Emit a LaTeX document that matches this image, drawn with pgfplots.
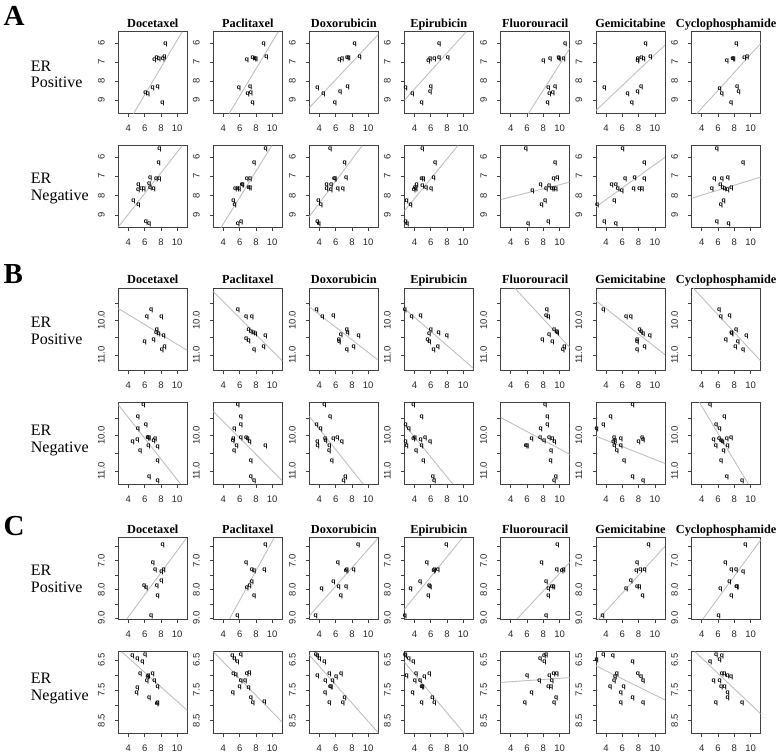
\documentclass[border=0pt]{standalone}
\usepackage{fontspec}
\setmainfont{Liberation Serif}
\newfontfamily\sansf{Liberation Sans}
\usepackage{pgfplots}
\pgfplotsset{compat=1.18}
\pgfplotsset{
 panel/.style={scale only axis, width=69pt, height=82pt, xmin=2.76, xmax=11.24, y dir=reverse,
   xtick={4,6,8,10}, xticklabels={4,6,8,10}, tick align=outside, tick pos=left,
   major tick length=3.5pt,
   axis line style={draw=black!75, line width=0.8pt},
   every tick/.style={draw=black!75, line width=0.6pt},
   tick label style={font=\sansf\fontsize{9.5}{9.5}\selectfont, text=black!85},
   xticklabel style={inner sep=0pt, anchor=north, yshift=-7.7pt},
   yticklabel style={inner sep=0pt, xshift=-10pt, rotate=90, anchor=south},
   clip=true, scaled ticks=false},
 rowAp/.style={ymin=5.42,ymax=9.70,ytick={6,7,8,9},yticklabels={6,7,8,9}},
 rowAn/.style={ymin=5.42,ymax=9.65,ytick={6,7,8,9},yticklabels={6,7,8,9}},
 rowBp/.style={ymin=9.08,ymax=11.44,ytick={9.5,10,10.5,11},yticklabels={,10.0,,11.0}},
 rowBn/.style={ymin=9.06,ymax=11.38,ytick={9.5,10,10.5,11},yticklabels={,10.0,,11.0}},
 rowCp/.style={ymin=6.2,ymax=9.05,ytick={6.5,7,7.5,8,8.5,9},yticklabels={,7.0,,8.0,,9.0}},
 rowCn/.style={ymin=6.22,ymax=8.94,ytick={6.5,7,7.5,8,8.5},yticklabels={6.5,,7.5,,8.5}},
 regline/.style={draw=gray!50, line width=0.9pt, no marks},
 pts/.style={only marks, mark=text, text mark={\sansf\bfseries\fontsize{6.8}{6.8}\selectfont q}, black},
}
\newcommand{\panel}[5]{%
  \begin{axis}[panel,#3,at={(#1pt,-#2pt)},anchor=north west]
    \addplot[regline] coordinates {#5};
    \addplot[pts] coordinates {#4};
  \end{axis}}
\newcommand{\ttl}[3]{\node[font=\bfseries\fontsize{12.3}{12.3}\selectfont, anchor=base, inner sep=0pt] at (#1pt,-#2pt) {#3};}
\newcommand{\titles}[1]{%
  \ttl{152.8}{#1}{Docetaxel}\ttl{247.8}{#1}{Paclitaxel}\ttl{343.8}{#1}{Doxorubicin}%
  \ttl{438.8}{#1}{Epirubicin}\ttl{535.2}{#1}{Fluorouracil}\ttl{630.5}{#1}{Gemicitabine}%
  \ttl{726.2}{#1}{Cyclophosphamide}}
\newcommand{\rlab}[3]{%
  \node[font=\fontsize{16}{16}\selectfont, anchor=base west, inner sep=0pt] at (30.7pt,-#1pt) {ER};
  \node[font=\fontsize{16}{16}\selectfont, anchor=base west, inner sep=0pt] at (30.7pt,-#2pt) {#3};}
\newcommand{\sect}[2]{\node[font=\bfseries\fontsize{29}{29}\selectfont, anchor=base west, inner sep=0pt] at (3.5pt,-#1pt) {#2};}
\begin{document}
\begin{tikzpicture}
\path[use as bounding box] (0,0) rectangle (780pt,-752pt);
\sect{26}{A}\sect{283}{B}\sect{535}{C}
\titles{27.2}\titles{283.8}\titles{533.2}
\rlab{71.5}{88}{Positive}\rlab{183.3}{200}{Negative}
\rlab{327}{344}{Positive}\rlab{435}{452}{Negative}
\rlab{575}{592}{Positive}\rlab{683}{700}{Negative}
% ---------------- A positive
\panel{118.3}{31.7}{rowAp}{(8.55,6.09)(7.19,6.92)(7.48,6.82)(7.76,6.89)(8.26,6.84)(8.43,6.77)(6.98,8.39)(7.6,8.34)(6.11,8.62)(6.4,8.71)(8.18,9.18)}{(4.62,9.70)(10.62,5.42)}
\panel{213.3}{31.7}{rowAp}{(8.96,6.09)(9.3,6.77)(6.9,6.92)(7.6,6.82)(7.85,6.84)(8.0,6.89)(5.9,8.39)(7.3,8.34)(7.4,8.62)(7.0,8.71)(7.6,9.18)}{(4.7,9.7)(10.75,5.42)}
\panel{309.3}{31.7}{rowAp}{(8.34,6.09)(6.48,6.92)(6.81,6.87)(7.43,6.82)(7.6,6.82)(8.96,6.77)(3.75,8.39)(4.5,8.71)(6.57,8.6)(7.48,8.34)(5.9,9.18)}{(2.76,9.39)(11.24,5.56)}
\panel{404.3}{31.7}{rowAp}{(7.06,6.09)(5.74,6.96)(5.94,6.87)(6.48,6.84)(7.06,6.82)(8.14,6.79)(2.92,8.39)(3.75,8.71)(6.03,8.34)(5.94,8.6)(4.91,9.18)}{(2.76,9.0)(10.37,5.42)}
\panel{500.7}{31.7}{rowAp}{(10.7,6.09)(8.01,6.96)(8.84,6.87)(9.88,6.79)(9.96,6.84)(10.5,6.87)(8.63,8.39)(9.46,8.34)(8.76,8.71)(9.17,8.62)(8.55,9.18)}{(6.15,9.7)(11.24,6.3)}
\panel{596}{31.7}{rowAp}{(8.88,6.09)(7.89,6.96)(7.93,6.84)(8.34,6.82)(8.63,6.87)(9.46,6.77)(3.79,8.39)(6.65,8.71)(7.89,8.6)(8.3,8.34)(7.19,9.18)}{(2.76,9.53)(11.24,6.12)}
\panel{691.7}{31.7}{rowAp}{(8.26,6.09)(7.1,6.96)(7.8,6.84)(7.93,6.89)(9.25,6.82)(9.59,6.77)(6.19,8.41)(6.48,8.71)(8.34,8.34)(8.55,8.6)(7.6,9.18)}{(3.38,9.7)(11.24,6.03)}
% ---------------- A negative
\panel{118.3}{145.7}{rowAn}{(7.81,5.59)(7.72,6.32)(6.69,7.09)(7.43,7.18)(7.81,7.18)(5.24,7.45)(5.2,7.72)(5.6,7.65)(5.9,7.65)(6.57,7.41)(6.69,7.6)(7.1,7.65)(4.62,8.27)(5.24,8.5)(6.15,9.36)(6.57,9.49)}{(2.76,9.61)(10.62,5.42)}
\panel{213.3}{145.7}{rowAn}{(9.2,5.6)(7.8,6.32)(6.9,7.18)(7.3,7.18)(6.28,7.45)(6.36,7.47)(5.45,7.69)(5.74,7.65)(5.94,7.67)(7.1,7.62)(7.3,7.64)(5.24,8.27)(5.4,8.5)(5.8,9.49)(6.2,9.36)}{(3.7,9.65)(9.95,5.42)}
\panel{309.3}{145.7}{rowAn}{(5.32,5.59)(7.1,6.32)(5.82,7.18)(5.94,7.18)(7.31,7.11)(4.91,7.47)(5.45,7.47)(4.91,7.69)(5.41,7.72)(6.28,7.65)(6.9,7.67)(3.88,8.27)(4.2,8.5)(3.75,9.36)(3.96,9.49)}{(2.76,9.08)(9.25,5.42)}
\panel{404.3}{145.7}{rowAn}{(4.99,5.59)(6.57,6.32)(4.91,7.18)(5.12,7.18)(6.36,7.11)(4.29,7.45)(4.2,7.69)(3.96,7.72)(4.08,7.62)(5.0,7.52)(5.45,7.62)(6.07,7.65)(3.05,8.27)(3.55,8.5)(2.92,9.36)(3.13,9.49)}{(2.76,8.79)(9.34,5.42)}
\panel{500.7}{145.7}{rowAn}{(5.86,5.59)(9.46,6.32)(9.26,7.14)(9.75,7.11)(7.68,7.45)(8.72,7.52)(8.35,7.65)(9.05,7.65)(9.26,7.69)(9.54,7.65)(6.65,7.77)(8.22,8.27)(7.8,8.5)(6.15,9.49)(8.63,9.36)}{(2.76,8.2)(11.24,7.3)}
\panel{596}{145.7}{rowAn}{(6.03,5.59)(8.72,6.32)(6.36,7.18)(7.52,7.11)(8.72,7.18)(4.7,7.48)(5.2,7.45)(5.45,7.69)(5.94,7.79)(7.39,7.65)(8.1,7.65)(8.43,7.65)(5.03,8.27)(2.92,8.5)(3.79,9.36)(5.2,9.49)}{(2.76,8.57)(11.24,6.02)}
\panel{691.7}{145.7}{rowAn}{(5.86,5.59)(9.09,6.32)(5.57,7.18)(6.48,7.18)(7.23,7.11)(6.28,7.45)(5.24,7.65)(6.57,7.6)(6.81,7.69)(7.19,7.74)(7.64,7.62)(6.69,8.27)(6.36,8.5)(5.86,9.36)(7.31,9.49)}{(2.76,8.13)(11.24,7.04)}
% ---------------- B positive
\panel{118.3}{288.3}{rowBp}{(6.81,9.71)(6.28,9.92)(8.05,9.92)(7.52,10.29)(7.43,10.37)(7.72,10.41)(8.34,10.45)(7.1,10.58)(5.99,10.63)(8.47,10.78)(8.14,10.87)}{(2.76,9.66)(11.24,10.87)}
\panel{213.3}{288.3}{rowBp}{(5.78,9.71)(6.81,9.92)(7.52,9.92)(7.1,10.29)(7.39,10.34)(7.72,10.39)(7.93,10.42)(6.81,10.56)(7.1,10.6)(7.8,10.87)(9.17,10.46)(8.96,10.78)}{(2.76,9.17)(11.24,11.17)}
\panel{309.3}{288.3}{rowBp}{(3.67,9.71)(4.37,9.92)(5.74,9.9)(7.39,10.29)(7.48,10.39)(6.65,10.44)(8.84,10.45)(6.4,10.58)(6.44,10.63)(8.22,10.78)(7.39,10.87)}{(2.76,9.61)(11.24,11.15)}
\panel{404.3}{288.3}{rowBp}{(2.84,9.71)(3.67,9.92)(4.79,9.9)(6.03,10.29)(5.82,10.42)(6.98,10.39)(8.01,10.45)(5.65,10.58)(5.86,10.63)(6.9,10.78)(6.36,10.87)}{(2.76,9.66)(11.24,11.38)}
\panel{500.7}{288.3}{rowBp}{(8.43,9.71)(8.35,9.88)(8.63,9.92)(9.34,10.29)(9.67,10.34)(9.75,10.39)(8.72,10.44)(7.89,10.58)(9.13,10.63)(10.41,10.87)(10.58,10.78)}{(4.5,9.08)(11.24,10.78)}
\panel{596}{288.3}{rowBp}{(3.67,9.71)(6.48,9.92)(7.06,9.92)(8.14,10.29)(8.3,10.36)(8.55,10.41)(9.38,10.45)(7.81,10.58)(7.81,10.63)(8.76,10.78)(7.81,10.87)}{(2.76,9.44)(11.24,10.99)}
\panel{691.7}{288.3}{rowBp}{(6.15,9.71)(6.36,9.92)(7.43,9.9)(8.22,10.29)(7.64,10.39)(7.72,10.42)(9.5,10.45)(8.43,10.63)(6.98,10.58)(8.14,10.78)(9.09,10.87)}{(2.97,9.08)(11.24,11.17)}
% ---------------- B negative
\panel{118.3}{402.3}{rowBn}{(5.86,9.15)(5.16,9.48)(6.15,9.72)(5.16,9.83)(6.4,10.07)(6.57,10.08)(6.36,10.09)(7.1,10.16)(7.31,10.11)(4.54,10.18)(5.12,10.13)(6.48,10.32)(7.6,10.34)(5.45,10.46)(7.6,10.74)(6.57,11.19)(7.6,11.3)}{(2.76,9.13)(10.41,11.37)}
\panel{213.3}{402.3}{rowBn}{(5.78,9.15)(6.15,9.48)(6.15,9.72)(5.37,9.83)(5.24,10.11)(5.16,10.17)(6.15,10.07)(6.81,10.07)(6.98,10.11)(7.23,10.18)(5.65,10.32)(5.32,10.46)(7.39,10.74)(7.39,11.19)(7.8,11.3)(9.17,10.32)}{(2.76,9.32)(11.24,11.28)}
\panel{309.3}{402.3}{rowBn}{(4.62,9.15)(5.32,9.48)(3.67,9.72)(4.17,9.83)(3.75,10.18)(3.79,10.3)(4.7,10.11)(4.79,10.16)(5.74,10.11)(6.23,10.07)(6.77,10.19)(5.24,10.32)(5.2,10.46)(5.53,10.74)(7.19,11.19)(6.98,11.3)}{(2.76,9.46)(9.38,11.37)}
\panel{404.3}{402.3}{rowBn}{(3.88,9.15)(4.91,9.48)(2.92,9.72)(3.34,9.83)(2.92,10.18)(3.05,10.3)(3.88,10.11)(4.08,10.07)(4.79,10.13)(5.32,10.07)(5.94,10.18)(4.91,10.32)(4.21,10.46)(5.12,10.74)(6.28,11.19)(6.44,11.3)}{(2.76,9.69)(8.72,11.37)}
\panel{500.7}{402.3}{rowBn}{(8.22,9.15)(8.51,9.48)(8.51,9.72)(7.68,9.83)(6.57,10.11)(5.86,10.32)(6.03,10.32)(7.6,10.07)(8.1,10.16)(8.72,10.07)(9.13,10.11)(9.38,10.18)(8.97,10.46)(8.92,10.74)(9.54,11.19)(9.34,11.3)}{(2.76,9.49)(11.24,10.53)}
\panel{596}{402.3}{rowBn}{(7.27,9.15)(4.58,9.48)(3.67,9.72)(2.84,9.83)(4.99,10.08)(5.12,10.16)(4.91,10.18)(5.82,10.11)(5.03,10.32)(5.82,10.32)(5.32,10.46)(6.23,10.74)(8.01,10.18)(8.43,10.07)(8.55,10.13)(7.27,11.19)(8.55,11.3)}{(2.76,10.02)(11.24,10.79)}
\panel{691.7}{402.3}{rowBn}{(5.03,9.15)(6.77,9.48)(5.78,9.72)(6.19,9.83)(5.45,10.13)(6.15,10.11)(6.4,10.16)(6.57,10.19)(7.1,10.11)(7.6,10.07)(5.74,10.32)(7.19,10.32)(6.69,10.46)(6.4,10.74)(7.1,11.19)(8.96,11.3)}{(3.71,9.06)(9.71,11.37)}
% ---------------- C positive
\panel{118.3}{537.7}{rowCp}{(8.22,6.45)(7.02,7.09)(7.31,7.35)(8.05,7.41)(8.34,7.33)(5.94,7.9)(6.19,7.97)(7.52,7.9)(8.05,7.73)(7.6,8.24)(6.81,8.92)}{(3.79,9.03)(11.12,6.22)}
\panel{213.3}{537.7}{rowCp}{(9.17,6.45)(6.81,7.09)(7.52,7.35)(7.8,7.38)(9.05,7.33)(7.52,7.76)(6.9,7.95)(7.23,7.9)(7.8,8.24)(5.74,8.92)}{(4.74,9.03)(10.2,6.22)}
\panel{309.3}{537.7}{rowCp}{(8.76,6.45)(6.28,7.09)(7.27,7.38)(7.39,7.35)(8.22,7.33)(5.74,7.76)(4.29,7.99)(6.36,7.91)(7.31,7.91)(6.65,8.24)(3.54,8.92)}{(2.76,8.92)(11.2,6.22)}
\panel{404.3}{537.7}{rowCp}{(7.93,6.45)(5.53,7.09)(6.36,7.38)(6.48,7.35)(6.9,7.33)(4.7,7.76)(3.54,7.99)(5.82,7.9)(5.94,7.91)(5.74,8.24)(2.85,8.92)}{(2.76,8.69)(9.87,6.22)}
\panel{500.7}{537.7}{rowCp}{(9.75,6.45)(7.81,7.09)(9.67,7.35)(10.29,7.38)(10.5,7.33)(8.35,7.76)(8.63,7.99)(9.05,7.91)(9.26,7.91)(8.63,8.24)(8.35,8.92)}{(4.76,9.03)(11.24,7.06)}
\panel{596}{537.7}{rowCp}{(9.25,6.45)(7.81,7.09)(7.72,7.38)(8.22,7.35)(8.76,7.33)(8.51,8.24)(7.06,7.73)(6.48,7.99)(7.81,7.91)(8.1,7.91)(3.59,8.92)}{(3.0,9.05)(11.24,6.5)}
\panel{691.7}{537.7}{rowCp}{(9.38,6.45)(6.9,7.09)(7.64,7.35)(8.22,7.33)(9.09,7.41)(7.39,7.76)(6.28,7.99)(8.26,7.91)(8.34,7.93)(7.64,8.24)(6.07,8.92)}{(4.12,9.03)(11.24,6.28)}
% ---------------- C negative
\panel{118.3}{651.7}{rowCn}{(4.5,6.39)(5.12,6.48)(5.74,6.59)(6.07,6.34)(5.45,6.98)(6.48,7.03)(6.36,7.06)(6.98,6.98)(6.28,7.22)(7.19,7.22)(7.6,7.41)(5.12,7.42)(5.03,7.59)(6.57,7.78)(7.6,7.92)(7.52,7.96)}{(3.17,6.22)(11.24,8.17)}
\panel{213.3}{651.7}{rowCn}{(5.12,6.39)(5.37,6.48)(5.74,6.59)(6.15,6.34)(5.24,6.98)(5.53,7.02)(6.9,6.98)(7.19,6.94)(6.69,7.22)(6.15,7.22)(7.1,7.42)(5.99,7.41)(5.16,7.59)(7.39,7.78)(7.64,7.94)(9.05,7.89)}{(2.76,6.22)(11.24,8.56)}
\panel{309.3}{651.7}{rowCn}{(3.59,6.34)(3.75,6.39)(4.0,6.48)(4.62,6.59)(3.75,7.03)(5.24,6.98)(6.07,7.06)(6.69,6.98)(5.65,7.22)(4.74,7.22)(5.32,7.41)(5.45,7.41)(4.7,7.59)(7.1,7.78)(5.24,7.92)(6.9,7.94)}{(2.76,6.33)(11.24,8.91)}
\panel{404.3}{651.7}{rowCn}{(2.86,6.34)(2.92,6.39)(3.34,6.48)(3.88,6.59)(3.05,7.03)(4.21,6.98)(5.24,7.06)(5.86,6.98)(4.08,7.22)(4.7,7.22)(4.91,7.41)(5.03,7.41)(3.79,7.59)(6.23,7.78)(4.91,7.92)(6.48,7.94)}{(2.76,6.56)(10.16,8.94)}
\panel{500.7}{651.7}{rowCn}{(8.35,6.34)(8.1,6.39)(7.6,6.48)(8.14,6.59)(6.03,7.03)(9.26,6.98)(9.67,6.97)(8.76,7.03)(7.52,7.22)(9.05,7.22)(8.63,7.41)(8.97,7.41)(6.57,7.59)(9.59,7.78)(5.74,7.92)(9.34,7.94)}{(2.76,7.24)(11.24,7.08)}
\panel{596}{651.7}{rowCn}{(2.84,6.5)(3.67,6.34)(4.83,6.39)(7.27,6.59)(5.32,6.98)(4.99,7.22)(4.5,7.41)(6.15,7.41)(7.93,6.98)(8.3,7.06)(8.55,7.22)(5.82,7.59)(7.27,7.78)(5.82,7.92)(8.55,7.94)(5.12,7.06)}{(2.76,6.69)(11.24,7.82)}
\panel{691.7}{651.7}{rowCn}{(5.78,6.34)(6.19,6.5)(6.48,6.39)(5.03,6.59)(6.48,6.98)(6.77,6.98)(7.19,7.03)(7.6,7.06)(5.45,7.22)(6.19,7.22)(6.4,7.41)(6.81,7.41)(7.19,7.59)(7.19,7.78)(5.74,7.92)(8.96,7.94)}{(3.17,6.22)(11.24,8.28)}
\end{tikzpicture}
\end{document}
